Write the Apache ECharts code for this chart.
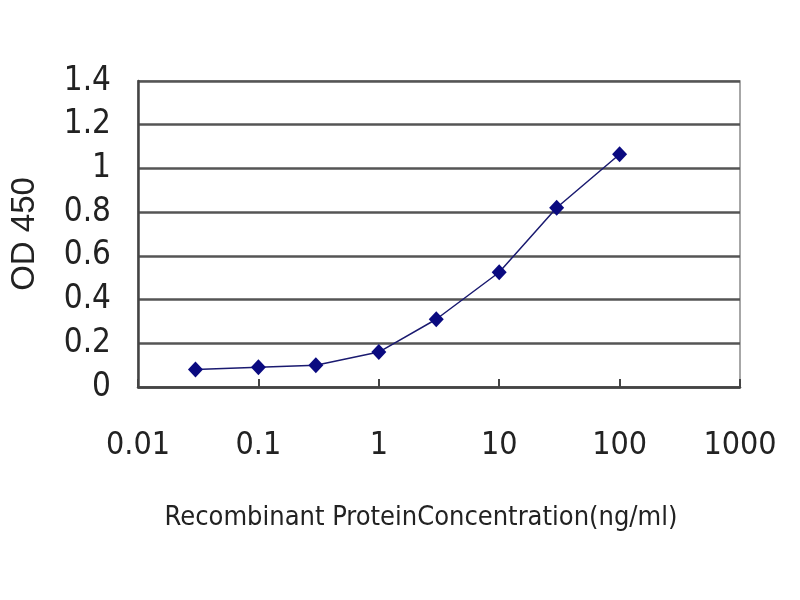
<!DOCTYPE html>
<html>
<head>
<meta charset="utf-8">
<script src="https://cdn.jsdelivr.net/npm/echarts@6/dist/echarts.min.js"></script>
<style>html,body{margin:0;padding:0;background:#fff;}#c{width:800px;height:600px;}</style>
</head>
<body>
<div id="c"></div>
<script>
const concentrations = [0.03, 0.1, 0.3, 1, 3, 10, 30, 100];
const odValues = [0.08, 0.09, 0.10, 0.16, 0.31, 0.525, 0.82, 1.065];
const xTickLabels = ['0.01', '0.1', '1', '10', '100', '1000'];
const xTitle = 'Recombinant ProteinConcentration(ng/ml)';
const yTitle = 'OD 450';

const narrow = "'Liberation Sans Narrow', 'Arial Narrow', 'DejaVu Sans Condensed', sans-serif";
const chart = echarts.init(document.getElementById('c'));
chart.setOption({
  backgroundColor: '#ffffff',
  animation: false,
  grid: { left: 138, right: 60, top: 81, bottom: 213, containLabel: false, outerBoundsMode: 'none',
    show: true, borderColor: '#8a8a8a', borderWidth: 1.5, backgroundColor: '#ffffff' },
  xAxis: {
    type: 'log', logBase: 10, min: 0.01, max: 1000,
    name: xTitle, nameLocation: 'middle', nameGap: 117,
    nameTextStyle: { fontFamily: narrow, fontSize: 27, color: '#222', padding: [0, 36, 0, 0] },
    axisLine: { lineStyle: { color: '#444', width: 2.5 } },
    axisTick: { inside: true, length: 8, lineStyle: { color: '#444', width: 2 } },
    minorTick: { show: false },
    splitLine: { show: false },
    axisLabel: { fontFamily: narrow, fontSize: 32, color: '#222', margin: 43,
      formatter: v => xTickLabels[Math.round(Math.log10(v)) + 2] }
  },
  yAxis: {
    type: 'value', min: 0, max: 1.4, interval: 0.2,
    name: yTitle, nameLocation: 'middle', nameGap: 97, nameRotate: 90,
    nameTextStyle: { fontFamily: "'Liberation Sans', Arial, sans-serif", fontSize: 33, color: '#222' },
    axisLine: { show: true, lineStyle: { color: '#444', width: 2.5 } },
    axisTick: { show: false },
    splitLine: { lineStyle: { color: '#555', width: 2.5 } },
    axisLabel: { fontFamily: narrow, fontSize: 33, color: '#222', margin: 27 }
  },
  series: [{
    type: 'line',
    data: concentrations.map((c, i) => [c, odValues[i]]),
    symbol: 'diamond', symbolSize: [15, 16],
    itemStyle: { color: '#0a0a80' },
    lineStyle: { color: '#1a1a70', width: 1.5 }
  }]
});
</script>
</body>
</html>
